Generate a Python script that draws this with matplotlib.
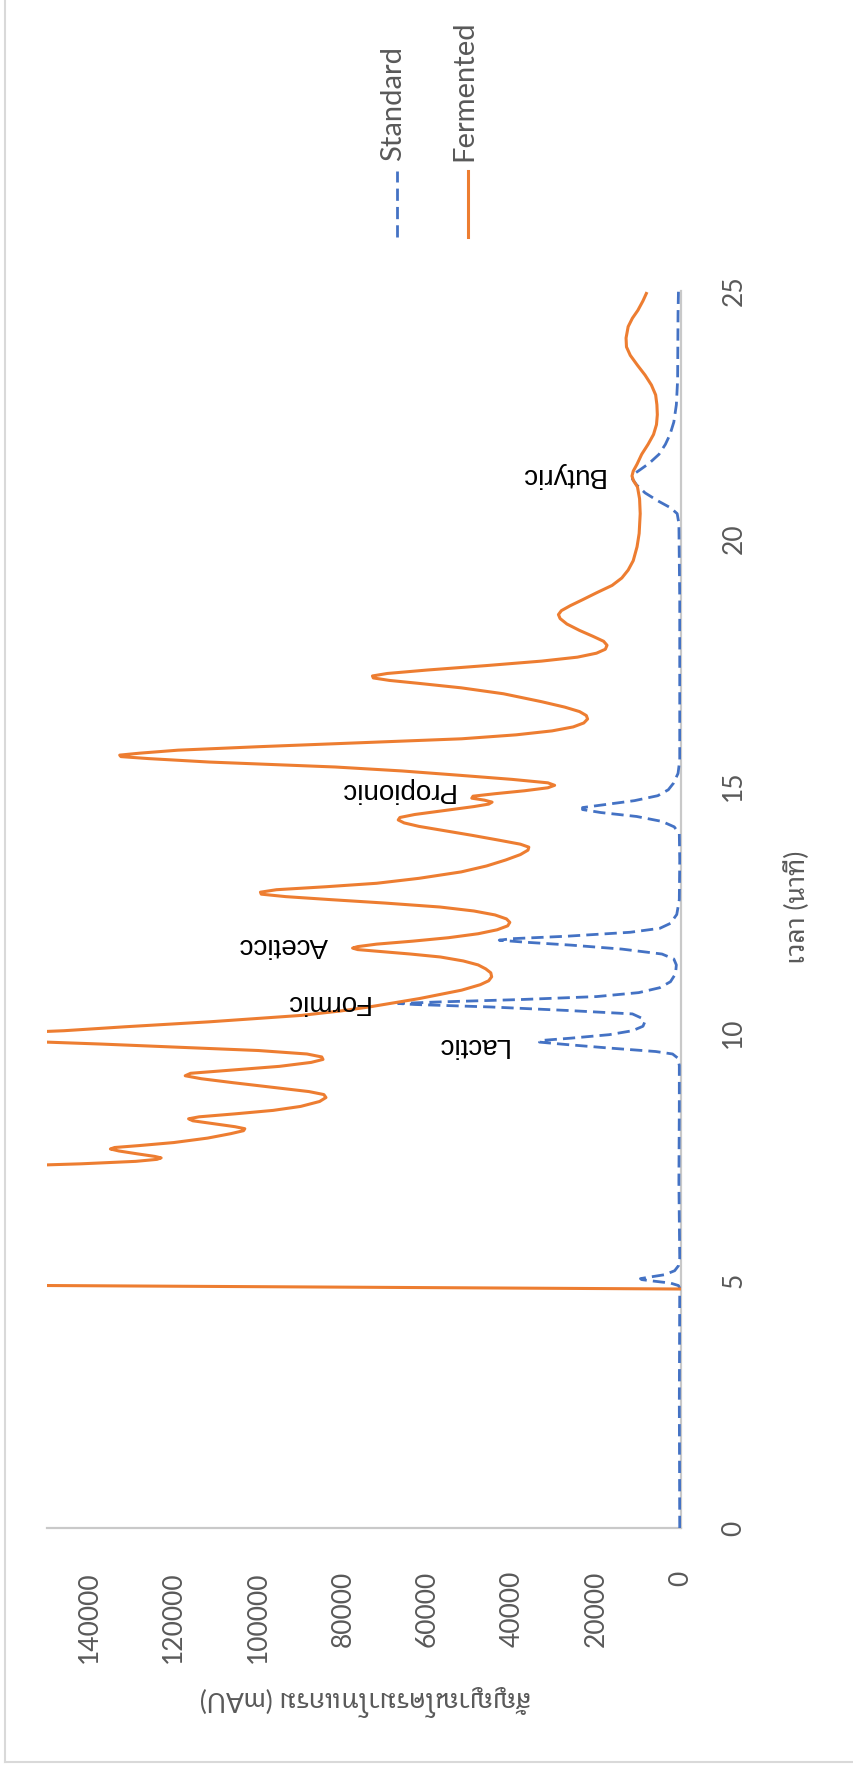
import matplotlib
matplotlib.use('Agg')
import matplotlib.pyplot as plt
from matplotlib.lines import Line2D
from matplotlib import font_manager
from matplotlib.ft2font import FT2Font

# Standard acid mix: retention time (min) and detector signal (mAU)
std_time = [0, 2.5, 4.85, 4.90, 4.95, 4.99, 5.02, 5.04, 5.07, 5.12, 5.20, 5.30, 5.45,
            7.0, 8.5, 9.35, 9.50, 9.58, 9.63, 9.70, 9.77, 9.82, 9.85, 9.90, 9.97,
            10.05, 10.14, 10.22, 10.30, 10.39, 10.46, 10.53, 10.58, 10.60, 10.63,
            10.68, 10.74, 10.82, 10.92, 11.04, 11.20, 11.38, 11.50, 11.60, 11.70,
            11.78, 11.84, 11.88, 11.91, 11.96, 12.04, 12.12, 12.22, 12.40, 12.70,
            13.5, 14.03, 14.17, 14.28, 14.38, 14.46, 14.52, 14.56, 14.62, 14.70,
            14.80, 14.92, 15.05, 15.25, 15.52, 17.0, 18.75, 20.3, 20.50, 20.62,
            20.76, 20.92, 21.08, 21.20, 21.28, 21.38, 21.52, 21.70, 21.90, 22.10,
            22.35, 22.70, 23.2, 24.55, 25.0]
std_signal = [300, 400, 300, 600, 2500, 6500, 9300, 9600, 7500, 3800, 1500, 600, 300,
              500, 400, 400, 800, 2000, 6000, 17000, 27000, 33500, 33500, 26000, 17000,
              11500, 9000, 8600, 9200, 11500, 27000, 45000, 63000, 66900, 58000,
              38000, 20000, 10000, 5000, 2500, 1300, 1100, 1700, 4500, 14000,
              26000, 37000, 43000, 40000, 27000, 12000, 5000, 2500, 1000, 400,
              300, 400, 1600, 4500, 10500, 19000, 23300, 23300, 18000, 11000,
              5500, 3000, 1800, 700, 300, 300, 300, 500, 900, 2500,
              5500, 8500, 10500, 11500, 11500, 9800, 7500, 5200, 3700, 2600,
              1700, 1100, 800, 700, 600]

# Fermented sample
ferm_time = [4.83, 4.95, 6.0, 7.22, 7.30, 7.36, 7.41, 7.45, 7.48, 7.51, 7.56, 7.62,
             7.66, 7.69, 7.73, 7.79, 7.88, 7.97, 8.03, 8.07, 8.11, 8.17, 8.23, 8.27,
             8.31, 8.37, 8.44, 8.52, 8.62, 8.70, 8.76, 8.82, 8.90, 9.00, 9.08, 9.14,
             9.19, 9.25, 9.33, 9.41, 9.47, 9.52, 9.58, 9.65, 9.72, 9.78, 9.85, 9.95,
             10.05, 10.13, 10.23, 10.36, 10.45, 10.53, 10.70, 10.87, 10.98, 11.06,
             11.14, 11.22, 11.30, 11.38, 11.46, 11.54, 11.60, 11.65, 11.69, 11.72,
             11.75, 11.80, 11.86, 11.93, 12.01, 12.09, 12.17, 12.24, 12.31, 12.39,
             12.47, 12.55, 12.63, 12.70, 12.76, 12.81, 12.85, 12.90, 12.96, 13.03,
             13.13, 13.26, 13.38, 13.50, 13.61, 13.70, 13.76, 13.82, 13.90, 14.00,
             14.10, 14.18, 14.25, 14.31, 14.36, 14.42, 14.50, 14.58, 14.63, 14.67,
             14.71, 14.75, 14.79, 14.84, 14.90, 14.96, 15.01, 15.06, 15.13, 15.21,
             15.30, 15.38, 15.48, 15.55, 15.59, 15.62, 15.66, 15.72, 15.79, 15.85,
             15.95, 16.03, 16.11, 16.19, 16.27, 16.35, 16.42, 16.50, 16.59, 16.70,
             16.86, 16.98, 17.07, 17.13, 17.18, 17.22, 17.27, 17.34, 17.43, 17.52,
             17.60, 17.68, 17.76, 17.84, 17.92, 18.02, 18.14, 18.27, 18.38, 18.46,
             18.54, 18.64, 18.76, 18.90, 19.05, 19.20, 19.36, 19.55, 19.83, 20.10,
             20.50, 20.80, 21.04, 21.16, 21.26, 21.36, 21.50, 21.70, 21.90, 22.10,
             22.30, 22.50, 22.70, 22.90, 23.10, 23.30, 23.50, 23.70, 23.87, 24.05,
             24.28, 24.45, 24.61, 24.80, 24.95]
ferm_signal = [0, 255000, 320000, 200000, 165000, 142000, 129000, 124000, 123000,
               124500, 128500, 133000, 135000, 134000, 128000, 120000, 112000, 106500,
               103500, 103200, 105500, 110500, 115500, 116500, 114000, 105500, 96500,
               90000, 85500, 84000, 84500, 88000, 96000, 106000, 113500, 117300,
               116000, 107000, 95000, 87500, 84700, 85000, 88500, 100000, 120000,
               137000, 160000, 175000, 146000, 131500, 111600, 89800, 80500, 73800,
               61900, 51900, 47500, 45500, 44800, 45000, 46200, 48000, 51500, 56900,
               64000, 71000, 76500, 77700, 76500, 72000, 63500, 55000, 48000, 43500,
               41000, 40500, 41300, 44000, 49000, 57000, 70000, 83000, 93500, 99300,
               99500, 95700, 84000, 72000, 62000, 52000, 46000, 41500, 38000, 36200,
               36000, 38000, 43000, 49500, 56500, 62000, 65500, 66900, 66500, 63000,
               56000, 49000, 45500, 44700, 46500, 49500, 49200, 44000, 37000, 31500,
               29900, 31500, 40000, 52000, 66000, 81800, 111600, 126000, 132500,
               132800, 128000, 119000, 100000, 81800, 51900, 39000, 30500, 25500,
               23000, 22100, 22400, 24000, 27500, 33000, 42000, 52000, 62000, 69000,
               72800, 73000, 69500, 60000, 46000, 33000, 24500, 20000, 17900, 17500,
               18300, 20800, 24000, 27000, 28600, 29000, 28300, 26200, 23300, 20000,
               16300, 14000, 12500, 11300, 10400, 9900, 9650, 9800, 10300, 11200,
               11600, 11300, 10400, 9300, 7800, 6500, 5800, 5600, 5700, 6000, 7000,
               8500, 10300, 12000, 12900, 13000, 12500, 11500, 10200, 9000, 8200]

peak_names = ['Lactic', 'Formic', 'Aceticc', 'Propionic', 'Butyric']
peak_label_time = [9.76, 10.63, 11.78, 14.92, 21.28]
peak_label_signal = [49500, 84000, 94200, 67400, 28400]

time_ticks = [0, 5, 10, 15, 20, 25]
signal_ticks = [0, 20000, 40000, 60000, 80000, 100000, 120000, 140000]

series_names = ['Standard', 'Fermented']
blue = '#4472C4'
orange = '#ED7D31'
grey_text = '#595959'
axis_grey = '#C9C9C9'


def thai_family():
    # first installed face that carries Thai glyphs, looped style preferred
    found = []
    for f in font_manager.fontManager.ttflist:
        try:
            if FT2Font(f.fname).get_char_index(ord('ส')):
                found.append(f.name)
        except Exception:
            pass
    for pick in ['Noto Sans Thai Looped', 'Noto Sans Thai']:
        if pick in found:
            return [pick]
    return sorted(set(found))[:1]


label_font = ['Lato'] + thai_family() + ['DejaVu Sans']

W, H = 854, 1767
fig = plt.figure(figsize=(W / 100, H / 100), dpi=100)

# the chart is laid on its side: signal runs leftwards, time runs upwards
ax = fig.add_axes([47 / W, 1 - 1528 / H, (681 - 47) / W, (1528 - 291) / H])
ax.set_xlim(150000, 0)
ax.set_ylim(0, 25)

ax.plot(std_signal, std_time, color=blue, lw=2.0, dashes=(4.4, 2.2),
        solid_joinstyle='round', dash_joinstyle='round', zorder=3)
ax.plot(ferm_signal, ferm_time, color=orange, lw=2.2,
        solid_joinstyle='round', zorder=4)

for name, t, s in zip(peak_names, peak_label_time, peak_label_signal):
    ax.text(s, t, name, rotation=180, ha='center', va='center',
            fontsize=20, family='Liberation Sans', color='black', zorder=5)

for side in ['left', 'top']:
    ax.spines[side].set_visible(False)
for side in ['right', 'bottom']:
    ax.spines[side].set_color(axis_grey)
    ax.spines[side].set_linewidth(1.6)

ax.set_xticks(signal_ticks)
ax.set_xticklabels([str(v) for v in signal_ticks])
ax.set_yticks(time_ticks)
ax.set_yticklabels([str(v) for v in time_ticks])
ax.yaxis.tick_right()
ax.tick_params(axis='x', length=0, pad=31, labelrotation=90,
               labelsize=19, labelcolor=grey_text)
ax.tick_params(axis='y', length=0, pad=29, labelrotation=90,
               labelsize=19, labelcolor=grey_text)
for lab in ax.get_xticklabels() + ax.get_yticklabels():
    lab.set_family(label_font)
for lab in ax.get_yticklabels():
    lab.set_va('center')

fig.text(365 / W, 1 - 1700 / H, 'สัญญาณโครมาโทแกรม (mAU)', rotation=180,
         ha='center', va='center', fontsize=19, color=grey_text, family=label_font)
fig.text(797 / W, 1 - 907 / H, 'เวลา (นาที)', rotation=90,
         ha='center', va='center', fontsize=19, color=grey_text, family=label_font)

# legend, stacked across the top
legend_x = [397, 468]
legend_style = [dict(color=blue, lw=2.0, dashes=(4.4, 2.2)), dict(color=orange, lw=2.2)]
for name, x, style in zip(series_names, legend_x, legend_style):
    fig.add_artist(Line2D([x / W, x / W], [1 - 237 / H, 1 - 171 / H], **style))
    fig.text((x - 4) / W, 1 - 161 / H, name, rotation=90, ha='center', va='bottom',
             fontsize=21, color=grey_text, family=label_font)

# chart frame edges
fig.add_artist(Line2D([5 / W, 5 / W], [1.0, 1 - 1762 / H], color='#D9D9D9', lw=1.5))
fig.add_artist(Line2D([5 / W, 1.0], [1 - 1762 / H, 1 - 1762 / H], color='#D9D9D9', lw=1.5))

fig.savefig('out.png', dpi=100, facecolor='white')
